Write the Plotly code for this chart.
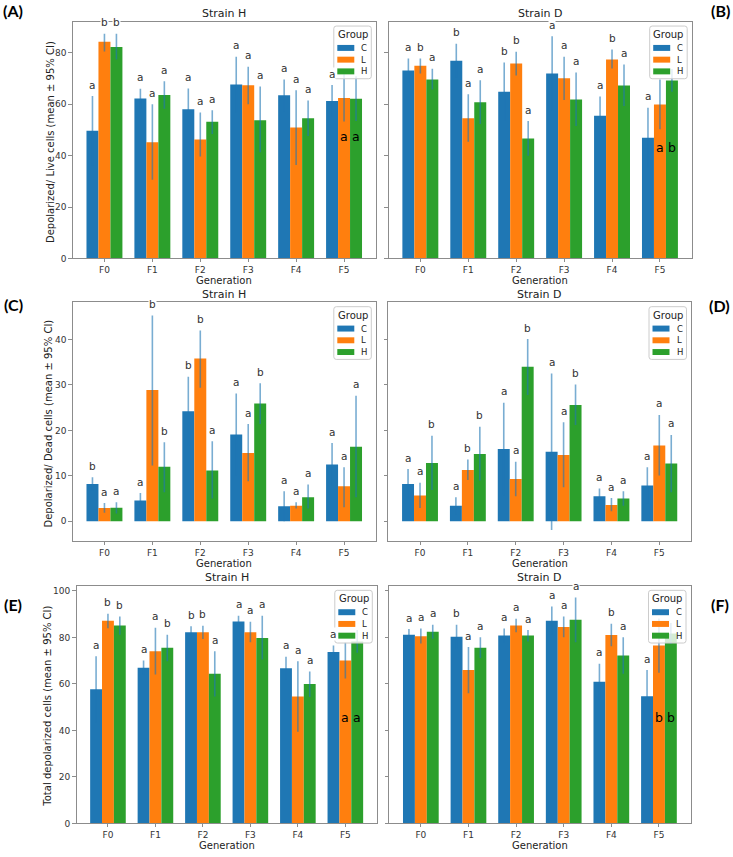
import plotly.graph_objects as go

W, H = 733, 857

generations = ["F0", "F1", "F2", "F3", "F4", "F5"]
groups = ["C", "L", "H"]
colors = ["#1f77b4", "#ff7f0e", "#2ca02c"]

# ---------- Panel A : Strain H, Depolarized / Live ----------
A_means = [[49.7, 62.3, 58.1, 67.7, 63.5, 61.3],
           [84.3, 45.2, 46.3, 67.4, 51.0, 62.5],
           [82.3, 63.6, 53.2, 53.8, 54.6, 62.2]]
A_lo = [[36.2, 58.5, 50.0, 56.9, 57.3, 55.1],
        [80.6, 30.6, 39.7, 60.0, 36.4, 53.3],
        [77.4, 58.3, 48.4, 41.3, 47.7, 53.5]]
A_hi = [[63.2, 66.1, 66.2, 78.5, 69.7, 67.5],
        [87.5, 60.0, 56.8, 74.6, 65.5, 71.7],
        [87.5, 69.0, 57.7, 66.9, 61.5, 70.9]]
A_letters = [["a", "a", "a", "a", "a", "a"],
             ["b", "a", "a", "a", "a", ""],
             ["b", "a", "a", "a", "a", ""]]
A_extra = ["a", "a", 47.5]

# ---------- Panel B : Strain D, Depolarized / Live ----------
B_means = [[73.2, 77.0, 64.9, 72.0, 55.5, 47.0],
           [75.0, 54.6, 75.9, 70.1, 77.4, 59.9],
           [69.7, 60.8, 46.7, 61.9, 67.3, 69.3]]
B_lo = [[68.6, 70.4, 53.5, 57.5, 48.0, 35.3],
        [72.0, 45.4, 71.2, 61.7, 73.9, 50.3],
        [65.8, 52.3, 40.0, 51.6, 59.3, 64.9]]
B_hi = [[77.8, 83.6, 76.3, 86.5, 63.0, 58.7],
        [77.8, 63.9, 80.5, 78.5, 81.3, 69.7],
        [73.8, 69.4, 53.5, 72.4, 75.5, 73.7]]
B_letters = [["a", "b", "b", "a", "a", "a"],
             ["b", "a", "b", "a", "b", ""],
             ["a", "a", "a", "a", "a", ""]]
B_extra = ["a", "b", 43.2]

# ---------- Panel C : Strain H, Depolarized / Dead ----------
C_means = [[8.2, 4.6, 24.2, 19.1, 3.3, 12.5],
           [2.9, 28.9, 35.8, 15.0, 3.4, 7.7],
           [3.0, 12.0, 11.2, 25.9, 5.3, 16.4]]
C_lo = [[6.8, 3.0, 16.6, 10.1, 0.0, 7.8],
        [1.9, 12.3, 29.4, 8.8, 2.8, 3.1],
        [1.7, 6.4, 5.0, 21.4, 2.8, 5.3]]
C_hi = [[9.7, 6.2, 31.8, 28.1, 6.6, 17.2],
        [4.0, 45.3, 42.0, 21.4, 4.2, 11.9],
        [4.2, 17.4, 17.6, 30.4, 8.1, 27.6]]
C_letters = [["b", "a", "b", "a", "a", "a"],
             ["a", "b", "b", "a", "a", "a"],
             ["a", "b", "a", "b", "a", "a"]]
C_extra = None

# ---------- Panel D : Strain D, Depolarized / Dead ----------
D_means = [[8.2, 3.4, 15.9, 15.3, 5.5, 7.9],
           [5.7, 11.3, 9.3, 14.6, 3.6, 16.7],
           [12.8, 14.8, 34.0, 25.6, 5.0, 12.7]]
D_lo = [[4.9, 1.5, 5.7, -1.9, 3.8, 3.9],
        [2.9, 9.1, 5.5, 7.5, 2.2, 10.1],
        [6.9, 9.0, 27.8, 21.2, 3.4, 6.4]]
D_hi = [[11.5, 5.3, 26.1, 32.5, 7.2, 11.9],
        [8.5, 13.6, 13.1, 21.8, 5.1, 23.4],
        [18.8, 20.8, 40.1, 30.1, 6.6, 19.0]]
D_letters = [["a", "a", "a", "a", "a", "a"],
             ["a", "b", "a", "a", "a", "a"],
             ["b", "b", "b", "b", "a", "a"]]
D_extra = None

# ---------- Panel E : Strain H, Total depolarized ----------
E_means = [[57.7, 67.0, 82.2, 86.9, 66.8, 73.8],
           [87.2, 74.1, 82.2, 82.3, 54.6, 70.1],
           [85.2, 75.6, 64.4, 79.8, 60.0, 78.3]]
E_lo = [[43.5, 63.9, 79.6, 84.5, 61.9, 71.1],
        [84.0, 64.1, 79.3, 77.9, 39.5, 62.3],
        [81.2, 69.8, 54.6, 70.5, 54.4, 73.4]]
E_hi = [[71.9, 70.1, 84.8, 89.3, 71.7, 76.5],
        [90.2, 84.2, 85.0, 86.8, 69.8, 77.9],
        [89.0, 81.2, 74.1, 89.3, 65.4, 83.2]]
E_letters = [["a", "a", "b", "a", "a", "a"],
             ["b", "a", "b", "a", "a", ""],
             ["b", "b", "a", "a", "a", ""]]
E_extra = ["a", "a", 45.6]

# ---------- Panel F : Strain D, Total depolarized ----------
F_means = [[81.2, 80.3, 80.8, 87.2, 61.0, 54.7],
           [80.5, 66.0, 85.2, 84.5, 81.1, 76.5],
           [82.5, 75.6, 80.8, 87.6, 72.2, 81.7]]
F_lo = [[78.8, 75.1, 77.7, 81.1, 53.3, 43.4],
        [77.4, 56.0, 82.3, 80.1, 76.2, 64.8],
        [79.5, 71.2, 78.3, 77.9, 64.4, 77.2]]
F_hi = [[83.6, 85.5, 83.9, 93.3, 68.7, 66.0],
        [83.9, 75.9, 88.0, 89.0, 85.9, 88.2],
        [85.5, 80.1, 83.2, 97.2, 80.1, 86.2]]
F_letters = [["a", "b", "a", "a", "a", "a"],
             ["a", "a", "a", "a", "b", ""],
             ["a", "a", "a", "a", "a", ""]]
F_extra = ["b", "b", 45.6]

row_ranges = [[0, 92.2], [-4.3, 48.2], [0, 102.2]]
row_ticks = [[0, 20, 40, 60, 80], [0, 10, 20, 30, 40], [0, 20, 40, 60, 80, 100]]
row_ylabels = ["Depolarized/ Live cells (mean ± 95% CI)",
               "Depolarized/ Dead cells (mean ± 95% CI)",
               "Total depolarized cells (mean ± 95% CI)"]

# layout geometry (pixels): left, top, right, bottom of each axes box
panels = [
    dict(tag="(A)", title="Strain H", row=0, left=True, m=A_means, lo=A_lo, hi=A_hi, let=A_letters, ex=A_extra, box=(72.7, 21.7, 375.8, 260.0), tagpos=(13, 11)),
    dict(tag="(B)", title="Strain D", row=0, left=False, m=B_means, lo=B_lo, hi=B_hi, let=B_letters, ex=B_extra, box=(388.6, 21.7, 691.7, 260.0), tagpos=(720, 11)),
    dict(tag="(C)", title="Strain H", row=1, left=True, m=C_means, lo=C_lo, hi=C_hi, let=C_letters, ex=C_extra, box=(72.7, 304.0, 375.8, 544.0), tagpos=(13, 306)),
    dict(tag="(D)", title="Strain D", row=1, left=False, m=D_means, lo=D_lo, hi=D_hi, let=D_letters, ex=D_extra, box=(388.3, 304.0, 691.0, 544.0), tagpos=(719, 307)),
    dict(tag="(E)", title="Strain H", row=2, left=True, m=E_means, lo=E_lo, hi=E_hi, let=E_letters, ex=E_extra, box=(76.5, 589.3, 376.8, 828.3), tagpos=(13, 608)),
    dict(tag="(F)", title="Strain D", row=2, left=False, m=F_means, lo=F_lo, hi=F_hi, let=F_letters, ex=F_extra, box=(389.3, 589.3, 690.5, 828.3), tagpos=(720, 608)),
]
ylabel_x = [50, 49, 48]

FONT = "DejaVu Sans"
ERR = "rgba(31,119,180,0.6)"
LINE = "#8c8c8c"


def px(x):
    return x / W


def py(y):
    return 1 - y / H


fig = go.Figure()
annotations = []
shapes = []
layout_axes = {}
offsets = [-0.25, 0.0, 0.25]

for k, p in enumerate(panels):
    n = k + 1
    xname = "x" if n == 1 else f"x{n}"
    yname = "y" if n == 1 else f"y{n}"
    l, t, r, b = p["box"]
    for g in range(3):
        m = p["m"][g]
        up = [h - v for h, v in zip(p["hi"][g], m)]
        dn = [v - lo_ for v, lo_ in zip(m, p["lo"][g])]
        fig.add_trace(go.Bar(
            x=list(range(len(generations))), y=m, name=groups[g],
            marker=dict(color=colors[g], line=dict(width=0)),
            error_y=dict(type="data", symmetric=False, array=up, arrayminus=dn,
                         color=ERR, thickness=1.6, width=0),
            showlegend=False, xaxis=xname, yaxis=yname,
        ))
        # significance letters
        for i, letter in enumerate(p["let"][g]):
            if not letter:
                continue
            annotations.append(dict(
                x=i + offsets[g], y=p["hi"][g][i], xref=xname, yref=yname,
                text=letter, showarrow=False, yanchor="middle", yshift=11.5,
                bgcolor="white", borderpad=0,
                font=dict(family=FONT, size=10.5, color="#333333")))
    if p["ex"]:
        for g, letter in ((1, p["ex"][0]), (2, p["ex"][1])):
            annotations.append(dict(
                x=len(generations) - 1 + offsets[g], y=p["ex"][2], xref=xname, yref=yname,
                text=letter, showarrow=False, yanchor="middle",
                font=dict(family=FONT, size=12.5, color="black")))

    row = p["row"]
    layout_axes["xaxis" if n == 1 else f"xaxis{n}"] = dict(
        domain=[px(l), px(r)], anchor=yname, range=[-0.6625, 5.6625],
        tickmode="array", tickvals=list(range(len(generations))), ticktext=generations,
        ticks="outside", ticklen=3, tickcolor=LINE, showline=True, mirror=True,
        linecolor=LINE, linewidth=1, showgrid=False, zeroline=False,
        tickfont=dict(family=FONT, size=9, color="#333333"))
    layout_axes["yaxis" if n == 1 else f"yaxis{n}"] = dict(
        domain=[py(b), py(t)], anchor=xname, range=row_ranges[row],
        tickmode="array", tickvals=row_ticks[row], showticklabels=p["left"],
        ticks="outside", ticklen=3.5, tickcolor=LINE, showline=True, mirror=True,
        linecolor=LINE, linewidth=1, showgrid=False, zeroline=False,
        tickfont=dict(family=FONT, size=9, color="#333333"))

    # title
    annotations.append(dict(x=px((l + r) / 2), y=py(t - 8), xref="paper", yref="paper",
                            text=p["title"], showarrow=False, xanchor="center", yanchor="middle",
                            font=dict(family=FONT, size=11, color="#222222")))
    # x title
    annotations.append(dict(x=px((l + r) / 2), y=py(b + 22.5), xref="paper", yref="paper",
                            text="Generation", showarrow=False, xanchor="center", yanchor="middle",
                            font=dict(family=FONT, size=10, color="#222222")))
    # y title
    if p["left"]:
        annotations.append(dict(x=px(ylabel_x[row]), y=py((t + b) / 2 + 2), xref="paper", yref="paper",
                                text=row_ylabels[row], showarrow=False, textangle=-90,
                                xanchor="center", yanchor="middle",
                                font=dict(family=FONT, size=10, color="#222222")))
    # panel tag
    annotations.append(dict(x=px(p["tagpos"][0]), y=py(p["tagpos"][1]), xref="paper", yref="paper",
                            text="<b>" + p["tag"] + "</b>", showarrow=False,
                            xanchor="center", yanchor="middle",
                            font=dict(family="Lato", size=16, color="black")))

    # legend (drawn manually to mimic the compact matplotlib legend)
    lw, lh = 37.5, 53.0
    lx1 = r - 4.5
    lx0 = lx1 - lw
    ly0 = t + 4.5
    ly1 = ly0 + lh
    rad = 2.5
    pts = (f"M {px(lx0 + rad)},{py(ly0)} L {px(lx1 - rad)},{py(ly0)} "
           f"Q {px(lx1)},{py(ly0)} {px(lx1)},{py(ly0 + rad)} "
           f"L {px(lx1)},{py(ly1 - rad)} Q {px(lx1)},{py(ly1)} {px(lx1 - rad)},{py(ly1)} "
           f"L {px(lx0 + rad)},{py(ly1)} Q {px(lx0)},{py(ly1)} {px(lx0)},{py(ly1 - rad)} "
           f"L {px(lx0)},{py(ly0 + rad)} Q {px(lx0)},{py(ly0)} {px(lx0 + rad)},{py(ly0)} Z")
    shapes.append(dict(type="path", path=pts, xref="paper", yref="paper", layer="above",
                       fillcolor="rgba(255,255,255,0.8)", line=dict(color="#cccccc", width=1)))
    annotations.append(dict(x=px((lx0 + lx1) / 2), y=py(ly0 + 8.5), xref="paper", yref="paper",
                            text="Group", showarrow=False, xanchor="center", yanchor="middle",
                            font=dict(family=FONT, size=10, color="#222222")))
    for g in range(3):
        cy = ly0 + 22 + 11.8 * g
        shapes.append(dict(type="rect", xref="paper", yref="paper", layer="above",
                           x0=px(lx0 + 3.5), x1=px(lx0 + 20.5), y0=py(cy - 3), y1=py(cy + 3),
                           fillcolor=colors[g], line=dict(width=0)))
        annotations.append(dict(x=px(lx0 + 25.5), y=py(cy), xref="paper", yref="paper",
                                text=groups[g], showarrow=False, xanchor="left", yanchor="middle",
                                font=dict(family=FONT, size=8.5, color="#222222")))

fig.update_layout(
    width=W, height=H, margin=dict(l=0, r=0, t=0, b=0),
    paper_bgcolor="white", plot_bgcolor="white",
    barmode="group", bargap=0.25, bargroupgap=0,
    showlegend=False, annotations=annotations, shapes=shapes,
    **layout_axes,
)

fig.write_html("out.html")
